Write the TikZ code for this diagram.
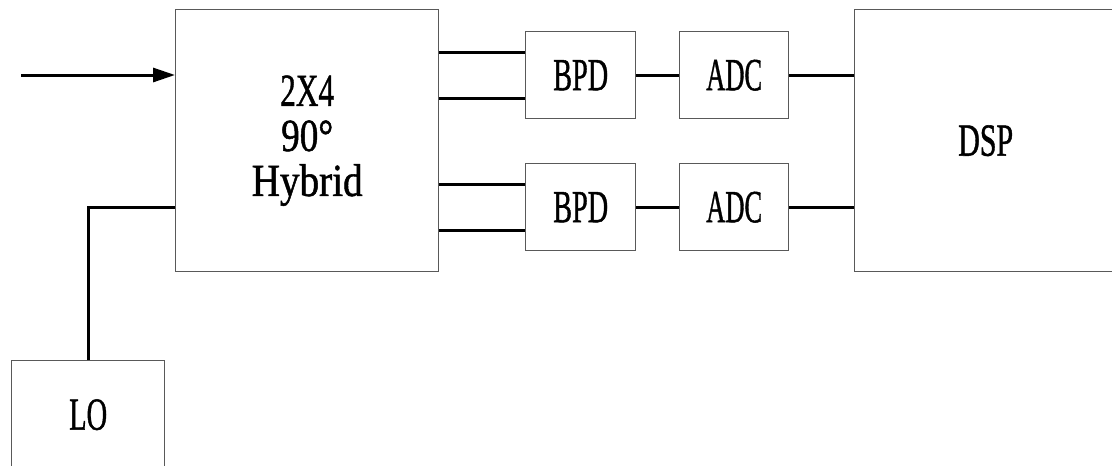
\documentclass[tikz,border=0pt]{standalone}
\usepackage{fontspec}
\setmainfont{Liberation Serif}
\newfontfamily\labelfont{Liberation Serif}[FakeBold=1.2]
\usetikzlibrary{arrows.meta,calc}
% stretch a label to a given width while keeping its natural height
\newcommand{\narrow}[2]{\resizebox{#1}{\height}{#2}}
\begin{document}
\begin{tikzpicture}[x=1pt,y=-1pt,
  block/.style={draw=black!65,line width=1.4pt,fill=white,anchor=north west,
    inner sep=0pt,font=\labelfont\fontsize{46}{45}\selectfont,align=center},
  wire/.style={line width=3pt,black},
  arrowwire/.style={wire,-{Triangle[length=22pt,width=14pt]}}]
\useasboundingbox (0,0) rectangle (1112,466);
\clip (0,0) rectangle (1112,466);

\node[block,minimum width=263pt,minimum height=262pt] (hyb) at (175,9)
  {\narrow{54pt}{2X4}\\\narrow{52pt}{90\textdegree}\\\narrow{111pt}{Hybrid}};
\node[block,minimum width=110pt,minimum height=87pt] (bpd1) at (525,31) {\narrow{55pt}{BPD}};
\node[block,minimum width=110pt,minimum height=87pt] (bpd2) at (525,163) {\narrow{55pt}{BPD}};
\node[block,minimum width=109pt,minimum height=87pt] (adc1) at (679,31) {\narrow{56pt}{ADC}};
\node[block,minimum width=109pt,minimum height=87pt] (adc2) at (679,163) {\narrow{56pt}{ADC}};
\node[block,minimum width=262pt,minimum height=262pt] (dsp) at (854,9) {\narrow{55pt}{DSP}};
\node[block,minimum width=153pt,minimum height=108pt] (lo) at (11,360) {\narrow{38pt}{LO}};

% signal input
\coordinate (src) at (21,75);
\draw[arrowwire] (src) -- (src -| hyb.west);

% local oscillator into the hybrid
\coordinate (loin) at ($(hyb.north west)!0.752!(hyb.south west)$);
\draw[wire] (lo.north) |- (loin);

% hybrid outputs to the balanced detectors
\foreach \b in {bpd1,bpd2}{
  \coordinate (\b a) at ($(\b.north west)!0.24!(\b.south west)$);
  \coordinate (\b b) at ($(\b.north west)!0.76!(\b.south west)$);
  \draw[wire] (\b a -| hyb.east) -- (\b a);
  \draw[wire] (\b b -| hyb.east) -- (\b b);
}

% detectors to converters to DSP
\draw[wire] (bpd1.east) -- (adc1.west);
\draw[wire] (bpd2.east) -- (adc2.west);
\draw[wire] (adc1.east) -- (adc1.east -| dsp.west);
\draw[wire] (adc2.east) -- (adc2.east -| dsp.west);
\end{tikzpicture}
\end{document}
